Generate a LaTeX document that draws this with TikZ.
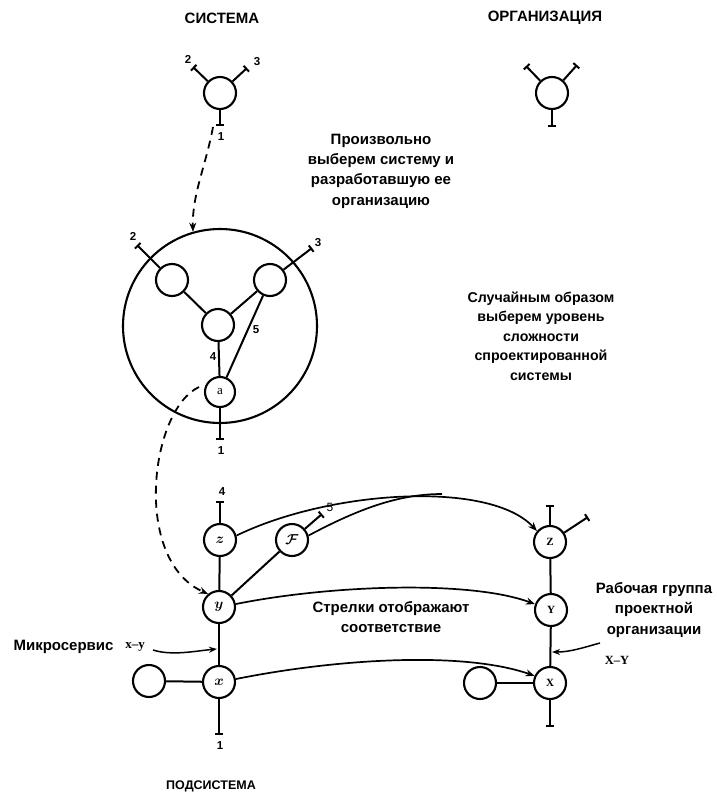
\documentclass[tikz,border=0pt]{standalone}
\usepackage{amsmath}
\usepackage{fontspec}
\setmainfont{Liberation Sans}
\newfontfamily\serifface{Liberation Serif}
\usetikzlibrary{arrows.meta}

\tikzset{
  unit/.style={circle, draw, line width=2.1pt, minimum size=32pt, inner sep=0pt},
  wire/.style={line width=2pt},
  leg/.style={line width=2pt, -{Bar[width=8pt]}},
  link/.style={line width=1.7pt, -{Stealth[length=9pt,width=7pt]}},
  dasharrow/.style={line width=1.8pt, dash pattern=on 8pt off 6pt, -{Stealth[length=9pt,width=7pt]}},
  caption/.style={font=\bfseries\fontsize{15}{20.3}\selectfont, align=center},
  heading/.style={font=\bfseries\fontsize{15}{16}\selectfont},
  num/.style={font=\bfseries\fontsize{11.5}{11.5}\selectfont},
  hand/.style={font=\fontsize{14}{14}\selectfont},
  tagface/.style={font=\serifface\bfseries\fontsize{11}{11}\selectfont},
}

\begin{document}
\begin{tikzpicture}[x=1pt,y=-1pt]
\useasboundingbox (0,0) rectangle (717,792);

% headings
\node[heading] (hsys) at (222,18) {СИСТЕМА};
\node[heading] (horg) at (545,18) {ОРГАНИЗАЦИЯ};
\node[font=\bfseries\fontsize{12.5}{14}\selectfont] (hsub) at (211,786) {ПОДСИСТЕМА};

% top-left system element with three ports
\node[unit] (s) at (220,93) {};
\coordinate (s1) at (220,126);
\coordinate (s2) at (193,67);
\coordinate (s3) at (247,68);
\draw[leg] (s) -- (s1);
\draw[leg] (s) -- (s2);
\draw[leg] (s) -- (s3);
\node[num] (s1l) at (221,137) {1};
\node[num] (s2l) at (188,59) {2};
\node[num] (s3l) at (257,62) {3};

% top-right organisation element
\node[unit] (o) at (552,93) {};
\coordinate (o1) at (552,127);
\coordinate (o2) at (526,66);
\coordinate (o3) at (577,65);
\draw[leg] (o) -- (o1);
\draw[leg] (o) -- (o2);
\draw[leg] (o) -- (o3);

% explanatory texts
\node[caption] (t1) at (381,171) {Произвольно\\выберем систему и\\разработавшую ее\\организацию};
\node[caption, font=\bfseries\fontsize{14.2}{19.6}\selectfont] (t2) at (541,336) {Случайным образом\\выберем уровень\\сложности\\спроектированной\\системы};
\node[caption] (t3) at (391,617) {Стрелки отображают\\соответствие};
\node[caption] (t4) at (654,610) {Рабочая группа\\проектной\\организации};
\node[caption, anchor=west] (t5) at (10,647) {Микросервис};
\node[font=\serifface\bfseries\fontsize{13}{13}\selectfont] (mxy) at (135,647) {x–y};
\node[font=\serifface\bfseries\fontsize{12.5}{12.5}\selectfont] (rxy) at (617,660) {X–Y};

% expanded system
\node[circle, draw, line width=2.1pt, minimum size=194pt, inner sep=0pt] (big) at (220,326) {};
\node[unit] (ul) at (172,280) {};
\node[unit] (ur) at (270,280) {};
\node[unit] (mid) at (218,325) {};
\node[unit, minimum size=30pt] (a) at (220,392) {\serifface\fontsize{13}{13}\selectfont a};
\coordinate (b1) at (220,440);
\coordinate (b2) at (137,245);
\coordinate (b3) at (312,248);
\draw[leg] (a) -- (b1);
\draw[leg] (ul) -- (b2);
\draw[leg] (ur) -- (b3);
\draw[wire] (ul) -- (mid);
\draw[wire] (ur) -- (mid);
\draw[wire] (mid) -- (a);
\draw[wire] (ur) -- (a);
\node[num] (b1l) at (221,451) {1};
\node[num] (b2l) at (133,236) {2};
\node[num] (b3l) at (318,243) {3};
\node[num] (l4) at (213,357) {4};
\node[num] (l5) at (256,330) {5};

% dashed zoom arrows
\coordinate (d1) at (213,127);
\draw[dasharrow] (d1) .. controls (206,165) and (192,195) .. (big.106);
\coordinate (d2) at (199,387);

% subsystem (left column)
\node[unit, hand] (lz) at (220,540) {$\boldsymbol{z}$};
\node[unit, hand] (lf) at (292,540) {$\boldsymbol{\mathcal{F}}$};
\node[unit, hand] (ly) at (219,607) {$\boldsymbol{y}$};
\node[unit, hand] (lx) at (219,682) {$\boldsymbol{x}$};
\node[unit] (lc) at (149,681) {};
\coordinate (lz4) at (220,501);
\coordinate (lf5) at (322,514);
\coordinate (lx1) at (219,735);
\draw[leg] (lz) -- (lz4);
\draw[leg] (lf) -- (lf5);
\draw[leg] (lx) -- (lx1);
\draw[wire] (lz) -- (ly);
\draw[wire] (ly) -- (lx);
\draw[wire] (lf) -- (ly);
\draw[wire] (lc) -- (lx);
\node[num] (lz4l) at (222,492) {4};
\node[font=\fontsize{12}{12}\selectfont] (lf5l) at (330,507) {5};
\node[num] (lx1l) at (220,746) {1};

\draw[dasharrow] (d2) .. controls (150,410) and (132,560) .. (ly.130);

% work group (right column)
\node[unit, tagface] (rz) at (550,542) {Z};
\node[unit, tagface] (ry) at (551,610) {Y};
\node[unit, tagface] (rx) at (550,683) {X};
\node[unit] (rc) at (480,683) {};
\coordinate (rz4) at (550,505);
\coordinate (rz5) at (588,517);
\coordinate (rx1) at (550,727);
\draw[leg] (rz) -- (rz4);
\draw[leg] (rz) -- (rz5);
\draw[leg] (rx) -- (rx1);
\draw[wire] (rz) -- (ry);
\draw[wire] (ry) -- (rx);
\draw[wire] (rc) -- (rx);

% correspondence arrows
\coordinate (merge) at (442,494);
\draw[link] (lz.15) .. controls (330,490) and (490,480) .. (rz.140);
\draw[line width=1.7pt] (lf.15) .. controls (360,508) and (400,494) .. (merge);
\draw[link] (ly.10) .. controls (330,585) and (470,580) .. (ry.160);
\draw[link] (lx.10) .. controls (330,660) and (460,650) .. (rx.155);

% interface arrows
\coordinate (mxyend) at (217,649);
\coordinate (mxystart) at (153,650);
\draw[line width=1.5pt, -{Stealth[length=8pt,width=6pt]}] (mxystart) .. controls (172,656) and (195,651) .. (mxyend);
\coordinate (rxystart) at (600,643);
\coordinate (rxyend) at (552,652);
\draw[line width=1.5pt, -{Stealth[length=8pt,width=6pt]}] (rxystart) .. controls (582,648) and (570,652) .. (rxyend);
\end{tikzpicture}
\end{document}
